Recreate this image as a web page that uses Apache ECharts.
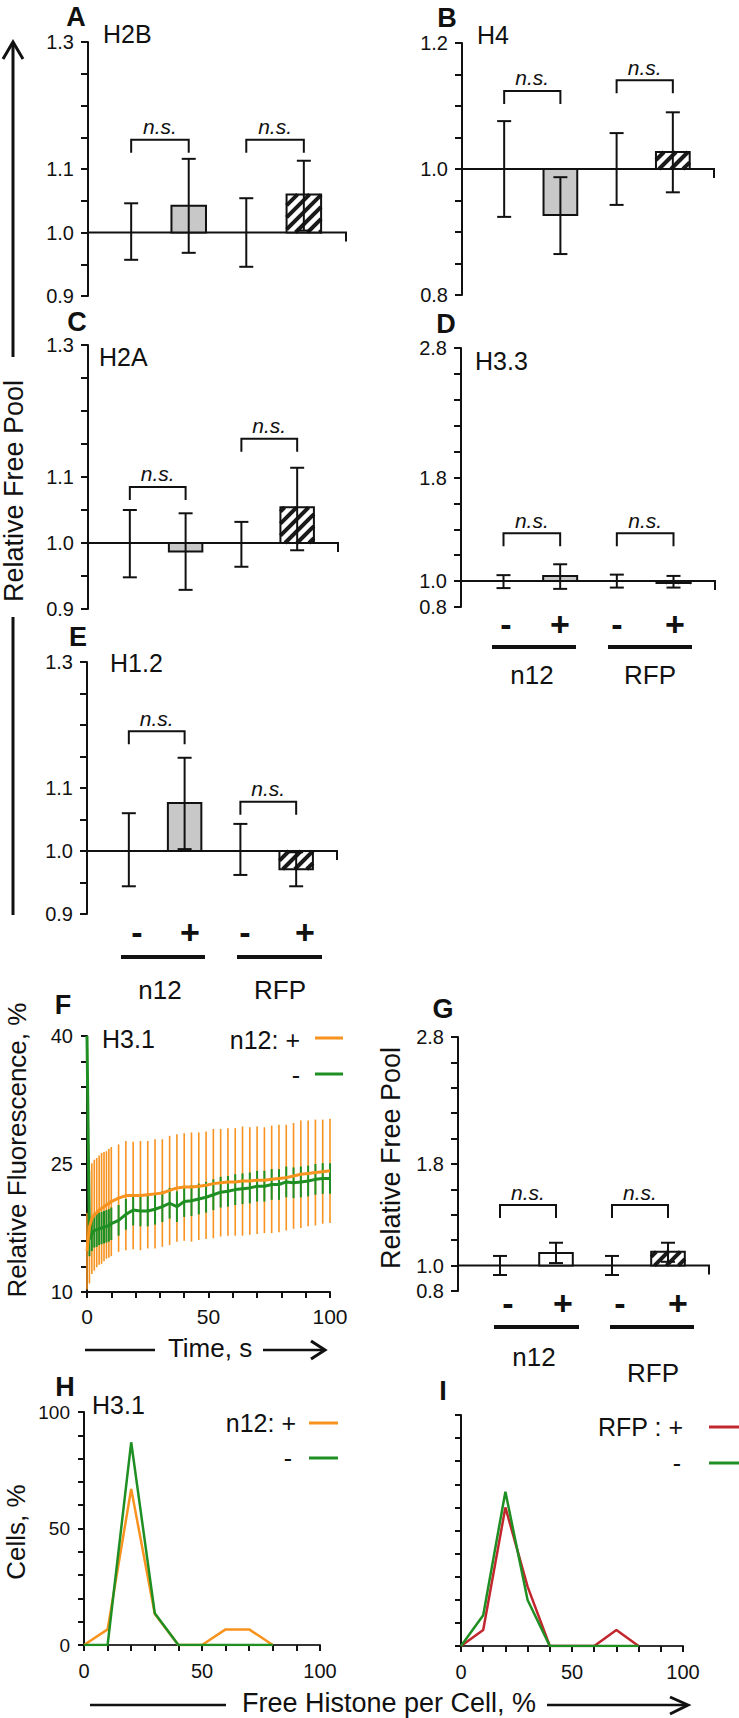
<!DOCTYPE html>
<html>
<head>
<meta charset="utf-8">
<script src="https://cdn.jsdelivr.net/npm/echarts@6/dist/echarts.min.js"></script>
<style>
  html, body { margin: 0; padding: 0; background: #fff; }
  #chart { width: 739px; height: 1718px; }
</style>
</head>
<body>
<div id="chart"></div>
<script>
// ---------- data ----------
const groupSigns = ['-', '+', '-', '+'];
const groupNames = ['n12', 'RFP'];
const barKinds = ['none', 'gray', 'none', 'hatch'];
const barKindsG = ['none', 'white', 'none', 'hatch'];

// relative free pool (control = 1.0); low/high are error bar ends
const h2bMean = [1.0, 1.042, 1.0, 1.060];
const h2bLow = [0.957, 0.968, 0.946, 1.003];
const h2bHigh = [1.046, 1.116, 1.054, 1.113];
const h2bNs = [1.146, 1.146];

const h4Mean = [1.0, 0.927, 1.0, 1.027];
const h4Low = [0.924, 0.865, 0.943, 0.963];
const h4High = [1.076, 0.987, 1.057, 1.090];
const h4Ns = [1.124, 1.141];

const h2aMean = [1.0, 0.987, 1.0, 1.054];
const h2aLow = [0.948, 0.929, 0.964, 0.989];
const h2aHigh = [1.050, 1.045, 1.032, 1.114];
const h2aNs = [1.085, 1.158];

const h33Mean = [1.0, 1.04, 1.0, 0.985];
const h33Low = [0.946, 0.94, 0.95, 0.95];
const h33High = [1.046, 1.13, 1.05, 1.04];
const h33Ns = [1.37, 1.37];

const h12Mean = [1.0, 1.076, 1.0, 0.971];
const h12Low = [0.944, 1.003, 0.962, 0.944];
const h12High = [1.060, 1.148, 1.043, 0.998];
const h12Ns = [1.19, 1.078];

const h31Mean = [1.0, 1.10, 1.0, 1.11];
const h31Low = [0.926, 1.02, 0.926, 1.03];
const h31High = [1.076, 1.18, 1.076, 1.18];
const h31Ns = [1.477, 1.477];

// F: recovery curves
const fluorTime = [0, 1, 2, 3, 4, 5, 6, 7, 8, 9, 10, 13, 16, 19, 22, 25, 28, 31, 34, 37, 40,
  43, 46, 49, 52, 55, 58, 61, 64, 67, 70, 73, 76, 79, 82, 85, 88, 91, 94, 97, 100];
const plusMean = [14.8, 17.6, 18.6, 19.0, 19.3, 19.6, 19.8, 20.0, 20.2, 20.4, 20.6, 21.0, 21.3,
  21.3, 21.3, 21.4, 21.5, 21.6, 21.9, 22.2, 22.3, 22.3, 22.4, 22.5, 22.7, 22.8, 22.9, 22.9,
  23.0, 23.0, 23.1, 23.1, 23.2, 23.3, 23.4, 23.6, 23.8, 23.9, 24.0, 24.1, 24.2];
const plusErr = [4.5, 6.6, 6.5, 6.5, 6.4, 6.4, 6.5, 6.4, 6.3, 6.4, 6.4, 6.3, 6.4, 6.3, 6.4, 6.3,
  6.4, 6.3, 6.4, 6.3, 6.3, 6.4, 6.3, 6.3, 6.4, 6.3, 6.3, 6.3, 6.4, 6.3, 6.3, 6.2, 6.3, 6.3,
  6.2, 6.2, 6.3, 6.2, 6.2, 6.1, 6.1];
const minusMean = [40, 16.2, 16.8, 17.2, 17.3, 17.4, 17.5, 17.6, 17.7, 17.8, 18.0, 18.4, 19.1,
  19.6, 19.5, 19.5, 19.7, 20.0, 20.4, 20.0, 20.6, 20.7, 20.9, 21.1, 21.4, 21.7, 21.8, 22.0,
  22.1, 22.2, 22.4, 22.4, 22.6, 22.6, 22.9, 22.8, 22.9, 23.0, 23.2, 23.3, 23.3];
const minusErr = [0, 2.0, 2.0, 2.0, 2.0, 1.9, 1.9, 1.9, 1.9, 1.9, 1.9, 1.8, 1.8, 1.8, 1.8, 1.8,
  1.8, 1.8, 1.8, 1.8, 1.8, 1.8, 1.8, 1.8, 1.8, 1.8, 1.8, 1.8, 1.8, 1.8, 1.8, 1.8, 1.8, 1.8,
  1.8, 1.8, 1.8, 1.8, 1.8, 1.8, 1.8];

// H, I: histograms of free histone per cell
const histBins = [0, 10, 20, 30, 40, 50, 60, 70, 80];
const hN12Plus = [0, 6.7, 67, 13.3, 0, 0, 6.7, 6.7, 0];
const hN12Minus = [0, 0, 87, 13.6, 0, 0, 0, 0, 0];
const iRfpPlus = [0, 6.9, 60, 25.7, 0, 0, 0, 6.9, 0];
const iRfpMinus = [0, 13.3, 66.8, 19.9, 0, 0, 0, 0, 0];

// ---------- style ----------
const FONT = "'Liberation Sans', Arial, sans-serif";
const INK = '#111';
const GRAY = '#c8c8c8';
const ORANGE = '#f7931e';
const GREEN = '#1f8f23';
const RED = '#c1272d';
const X_MIN = -0.75, X_MAX = 3.75;

const barPanels = [
  { key: 'A', grid: { left: 88, top: 42, width: 259, height: 254 }, y: [0.9, 1.3, 0.05], labels: [0.9, 1.0, 1.1, 1.3],
    mean: h2bMean, low: h2bLow, high: h2bHigh, ns: h2bNs, kinds: barKinds },
  { key: 'B', grid: { left: 462, top: 43, width: 253, height: 252 }, y: [0.8, 1.2, 0.05], labels: [0.8, 1.0, 1.2],
    mean: h4Mean, low: h4Low, high: h4High, ns: h4Ns, kinds: barKinds },
  { key: 'C', grid: { left: 88, top: 345, width: 251, height: 264 }, y: [0.9, 1.3, 0.05], labels: [0.9, 1.0, 1.1, 1.3],
    mean: h2aMean, low: h2aLow, high: h2aHigh, ns: h2aNs, kinds: barKinds },
  { key: 'D', grid: { left: 461, top: 348, width: 255, height: 259 }, y: [0.8, 2.8, 0.2], labels: [0.8, 1.0, 1.8, 2.8],
    mean: h33Mean, low: h33Low, high: h33High, ns: h33Ns, kinds: barKinds },
  { key: 'E', grid: { left: 87, top: 662, width: 251, height: 252 }, y: [0.9, 1.3, 0.05], labels: [0.9, 1.0, 1.1, 1.3],
    mean: h12Mean, low: h12Low, high: h12High, ns: h12Ns, kinds: barKinds },
  { key: 'G', grid: { left: 458, top: 1037, width: 252, height: 254 }, y: [0.8, 2.8, 0.2], labels: [0.8, 1.0, 1.8, 2.8],
    mean: h31Mean, low: h31Low, high: h31High, ns: h31Ns, kinds: barKindsG }
];

const grids = [], xAxes = [], yAxes = [], series = [];

function axisStyle() {
  return { show: true, onZero: false, lineStyle: { color: INK, width: 2 } };
}
function pickLabels(shown, step, fmt) {
  return v => shown.some(s => Math.abs(s - v) < step / 10) ? fmt(v) : '';
}

function hatch(x0, y0, x1, y1) {
  const step = 12, out = [];
  for (let c = Math.ceil((x0 + y0) / step) * step; c < x1 + y1; c += step) {
    const xa = Math.max(x0, c - y1), xb = Math.min(x1, c - y0);
    if (xb > xa) {
      out.push({ type: 'line', shape: { x1: xa, y1: c - xa, x2: xb, y2: c - xb },
        style: { stroke: '#1a1a1a', lineWidth: 4 } });
    }
  }
  return out;
}

barPanels.forEach((p, idx) => {
  grids.push(Object.assign({ containLabel: false, outerBoundsMode: 'none' }, p.grid));
  xAxes.push({ gridIndex: idx, type: 'value', min: X_MIN, max: X_MAX, show: false });
  yAxes.push({
    gridIndex: idx, type: 'value', min: p.y[0], max: p.y[1], interval: p.y[2],
    axisLine: axisStyle(),
    axisTick: { show: true, length: 7, lineStyle: { color: INK, width: 2 } },
    splitLine: { show: false },
    axisLabel: { fontSize: 20, fontFamily: FONT, color: INK, margin: 14,
      formatter: pickLabels(p.labels, p.y[2], v => v.toFixed(1)) }
  });
  const pts = p.mean.map((m, k) => [k, m, p.low[k], p.high[k]]);
  const common = { type: 'custom', xAxisIndex: idx, yAxisIndex: idx, silent: true };

  // horizontal axis at 1.0 with end tick
  series.push(Object.assign({}, common, {
    name: p.key + ' baseline', data: [[X_MIN, 1.0, X_MAX]], encode: { x: 0, y: 1 },
    renderItem: (params, api) => {
      const a = api.coord([api.value(0), api.value(1)]);
      const b = api.coord([api.value(2), api.value(1)]);
      return { type: 'group', children: [
        { type: 'line', shape: { x1: a[0], y1: a[1], x2: b[0], y2: b[1] }, style: { stroke: INK, lineWidth: 2 } },
        { type: 'line', shape: { x1: b[0] - 1, y1: b[1], x2: b[0] - 1, y2: b[1] + 9 }, style: { stroke: INK, lineWidth: 2 } }
      ] };
    }
  }));

  // bars drawn from 1.0
  series.push(Object.assign({}, common, {
    name: p.key + ' bars', data: pts, encode: { x: 0, y: 1 },
    renderItem: (params, api) => {
      const kind = p.kinds[params.dataIndex];
      if (kind === 'none') return { type: 'group', children: [] };
      const half = api.size([0.6, 0])[0] / 2;
      const base = api.coord([api.value(0), 1.0]);
      const top = api.coord([api.value(0), api.value(1)]);
      const x0 = base[0] - half, x1 = base[0] + half;
      const y0 = Math.min(base[1], top[1]), y1 = Math.max(base[1], top[1]);
      const shape = { x: x0, y: y0, width: x1 - x0, height: y1 - y0 };
      const children = [{ type: 'rect', shape, style: { fill: kind === 'gray' ? GRAY : '#fff' } }];
      if (kind === 'hatch') children.push.apply(children, hatch(x0, y0, x1, y1));
      children.push({ type: 'rect', shape, style: { fill: 'none', stroke: INK, lineWidth: 2 } });
      return { type: 'group', children };
    }
  }));

  // error bars
  series.push(Object.assign({}, common, {
    name: p.key + ' error', data: pts, encode: { x: 0, y: [2, 3] },
    renderItem: (params, api) => {
      const lo = api.coord([api.value(0), api.value(2)]);
      const hi = api.coord([api.value(0), api.value(3)]);
      const s = { stroke: INK, lineWidth: 2 };
      return { type: 'group', children: [
        { type: 'line', shape: { x1: lo[0], y1: lo[1], x2: hi[0], y2: hi[1] }, style: s },
        { type: 'line', shape: { x1: hi[0] - 7, y1: hi[1], x2: hi[0] + 7, y2: hi[1] }, style: s },
        { type: 'line', shape: { x1: lo[0] - 7, y1: lo[1], x2: lo[0] + 7, y2: lo[1] }, style: s }
      ] };
    }
  }));

  // n.s. brackets between - and + of each group
  series.push(Object.assign({}, common, {
    name: p.key + ' ns', data: p.ns.map((lv, j) => [2 * j, 2 * j + 1, lv]), encode: { x: [0, 1], y: 2 },
    renderItem: (params, api) => {
      const a = api.coord([api.value(0), api.value(2)]);
      const b = api.coord([api.value(1), api.value(2)]);
      return { type: 'group', children: [
        { type: 'polyline', shape: { points: [[a[0], a[1] + 13], [a[0], a[1]], [b[0], b[1]], [b[0], b[1] + 13]] },
          style: { stroke: INK, lineWidth: 2, fill: 'none' } },
        { type: 'text', style: { text: 'n.s.', x: (a[0] + b[0]) / 2, y: a[1] - 13,
          align: 'center', verticalAlign: 'middle', textAlign: 'center', textVerticalAlign: 'middle',
          fontSize: 21, fontStyle: 'italic', fontFamily: FONT, fill: INK } }
      ] };
    }
  }));
});

// ---------- F: fluorescence recovery ----------
const iF = barPanels.length;
grids.push({ left: 87, top: 1036, width: 243, height: 256, containLabel: false, outerBoundsMode: 'none' });
xAxes.push({ gridIndex: iF, type: 'value', min: 0, max: 100, interval: 10,
  axisLine: axisStyle(), axisTick: { length: 6, lineStyle: { color: INK, width: 2 } }, splitLine: { show: false },
  axisLabel: { fontSize: 21, fontFamily: FONT, color: INK, margin: 14, formatter: pickLabels([0, 50, 100], 10, v => String(v)) } });
yAxes.push({ gridIndex: iF, type: 'value', min: 10, max: 40, interval: 3,
  axisLine: axisStyle(), axisTick: { length: 6, lineStyle: { color: INK, width: 2 } }, splitLine: { show: false },
  axisLabel: { fontSize: 20, fontFamily: FONT, color: INK, margin: 14, formatter: pickLabels([10, 25, 40], 3, v => String(v)) } });

function errSeries(name, mean, err, color, width, gi) {
  return {
    name, type: 'custom', xAxisIndex: gi, yAxisIndex: gi, silent: true,
    data: fluorTime.map((t, k) => [t, mean[k] - err[k], mean[k] + err[k]]),
    encode: { x: 0, y: [1, 2] },
    renderItem: (params, api) => {
      const lo = api.coord([api.value(0), api.value(1)]);
      const hi = api.coord([api.value(0), api.value(2)]);
      return { type: 'line', shape: { x1: lo[0], y1: lo[1], x2: hi[0], y2: hi[1] },
        style: { stroke: color, lineWidth: width } };
    }
  };
}
series.push(errSeries('n12 + sd', plusMean, plusErr, ORANGE, 1.6, iF));
series.push(errSeries('n12 - sd', minusMean, minusErr, GREEN, 2, iF));
series.push({ name: 'n12 -', type: 'line', xAxisIndex: iF, yAxisIndex: iF, showSymbol: false, silent: true,
  data: fluorTime.map((t, k) => [t, minusMean[k]]), lineStyle: { color: GREEN, width: 3 }, itemStyle: { color: GREEN } });
series.push({ name: 'n12 +', type: 'line', xAxisIndex: iF, yAxisIndex: iF, showSymbol: false, silent: true,
  data: fluorTime.map((t, k) => [t, plusMean[k]]), lineStyle: { color: ORANGE, width: 3 }, itemStyle: { color: ORANGE } });

// ---------- H, I: histograms ----------
function histPanel(gi, grid, showY) {
  grids.push(Object.assign({ containLabel: false, outerBoundsMode: 'none' }, grid));
  xAxes.push({ gridIndex: gi, type: 'value', min: 0, max: 100, interval: 10,
    axisLine: { show: true, onZero: false, lineStyle: { color: '#333', width: 2 } },
    axisTick: { length: 6, lineStyle: { color: INK, width: 2 } },
    splitLine: { show: false },
    axisLabel: { fontSize: 20, fontFamily: FONT, color: INK, margin: 16, formatter: pickLabels([0, 50, 100], 10, v => String(v)) } });
  yAxes.push({ gridIndex: gi, type: 'value', min: 0, max: 100, interval: 10,
    axisLine: axisStyle(), axisTick: { length: 6, lineStyle: { color: INK, width: 2 } }, splitLine: { show: false },
    axisLabel: { show: showY, fontSize: 19, fontFamily: FONT, color: INK, margin: 14,
      formatter: pickLabels([0, 50, 100], 10, v => String(v)) } });
}
function histLine(name, gi, vals, color) {
  return { name, type: 'line', xAxisIndex: gi, yAxisIndex: gi, showSymbol: false, silent: true,
    data: histBins.map((b, k) => [b, vals[k]]), lineStyle: { color, width: 2.5 }, itemStyle: { color } };
}
const iH = iF + 1, iI = iF + 2;
histPanel(iH, { left: 84, top: 1412, width: 236, height: 233 }, true);
histPanel(iI, { left: 461, top: 1415, width: 222, height: 231 }, false);
series.push(histLine('H n12 +', iH, hN12Plus, ORANGE));
series.push(histLine('H n12 -', iH, hN12Minus, GREEN));
series.push(histLine('I RFP +', iI, iRfpPlus, RED));
series.push(histLine('I RFP -', iI, iRfpMinus, GREEN));

// ---------- annotations ----------
const graphics = [];
function txt(text, x, y, size, opt) {
  opt = opt || {};
  const align = opt.align || 'center';
  graphics.push({ type: 'text', x, y, rotation: opt.rot || 0, silent: true,
    style: { text, x: 0, y: 0, fill: INK, fontSize: size, fontFamily: FONT,
      fontWeight: opt.bold ? 'bold' : 'normal', fontStyle: opt.italic ? 'italic' : 'normal',
      align, verticalAlign: 'middle', textAlign: align, textVerticalAlign: 'middle' } });
}
function seg(x1, y1, x2, y2, w, color) {
  graphics.push({ type: 'line', silent: true, shape: { x1, y1, x2, y2 }, style: { stroke: color || INK, lineWidth: w } });
}
function head(points, w) {
  graphics.push({ type: 'polyline', silent: true, shape: { points }, style: { stroke: INK, lineWidth: w, fill: 'none' } });
}

[['A', 76, 17], ['B', 447, 18], ['C', 77, 322], ['D', 446, 324], ['E', 78, 637], ['F', 63, 1005],
 ['G', 443, 1009], ['H', 65, 1387], ['I', 443, 1391]].forEach(l => txt(l[0], l[1], l[2], 27, { bold: true }));

[['H2B', 103, 34], ['H4', 477, 35], ['H2A', 99, 357], ['H3.3', 475, 361], ['H1.2', 110, 663],
 ['H3.1', 102, 1039], ['H3.1', 92, 1405]].forEach(l => txt(l[0], l[1], l[2], 25, { align: 'left' }));

// sign rows, underlines and group names under D, E and G
[{ y: 624, xs: [506, 560, 617, 675], ly: 647, lines: [[492, 576], [608, 692]], gy: [675, 675], gx: [532, 650] },
 { y: 932, xs: [137, 190, 245, 305], ly: 957, lines: [[121, 205], [237, 322]], gy: [990, 990], gx: [160, 280] },
 { y: 1303, xs: [508, 563, 620, 678], ly: 1327, lines: [[494, 579], [610, 694]], gy: [1357, 1373], gx: [534, 653] }
].forEach(r => {
  r.xs.forEach((x, k) => txt(groupSigns[k], x, r.y, 34, { bold: true }));
  r.lines.forEach(l => seg(l[0], r.ly, l[1], r.ly, 4));
  groupNames.forEach((n, k) => txt(n, r.gx[k], r.gy[k], 26));
});

// main y label with arrow
txt('Relative Free Pool', 14, 491, 27, { rot: Math.PI / 2 });
seg(13, 42, 13, 357, 3);
seg(13, 617, 13, 915, 3);
head([[3, 59], [13, 42], [23, 59]], 3);

// F labels
txt('Relative Fluorescence, %', 17, 1150, 26, { rot: Math.PI / 2 });
txt('Time, s', 210, 1348, 26);
seg(85, 1350, 155, 1350, 2.5);
seg(263, 1350, 323, 1350, 2.5);
head([[311, 1341], [325, 1350], [311, 1359]], 3);
txt('n12: +', 300, 1040, 25, { align: 'right' });
seg(315, 1038, 343, 1038, 3, ORANGE);
txt('-', 300, 1075, 25, { align: 'right' });
seg(315, 1074, 343, 1074, 3, GREEN);

// G label
txt('Relative Free Pool', 391, 1158, 27, { rot: Math.PI / 2 });

// H, I labels
txt('Cells, %', 16, 1532, 26, { rot: Math.PI / 2 });
txt('Free Histone per Cell, %', 389, 1703, 27);
seg(90, 1705, 226, 1705, 2.5);
seg(547, 1705, 686, 1705, 2.5);
head([[670, 1697], [688, 1705], [670, 1714]], 3);
txt('n12: +', 296, 1423, 25, { align: 'right' });
seg(309, 1423, 338, 1423, 3, ORANGE);
txt('-', 292, 1458, 25, { align: 'right' });
seg(309, 1458, 338, 1458, 3, GREEN);
txt('RFP : +', 683, 1427, 25, { align: 'right' });
seg(709, 1427, 739, 1427, 3, RED);
txt('-', 681, 1463, 25, { align: 'right' });
seg(709, 1463, 739, 1463, 3, GREEN);

const chart = echarts.init(document.getElementById('chart'), null, { renderer: 'svg' });
chart.setOption({
  backgroundColor: '#fff',
  animation: false,
  grid: grids,
  xAxis: xAxes,
  yAxis: yAxes,
  series: series,
  graphic: graphics
});
window.addEventListener('resize', () => chart.resize());
</script>
</body>
</html>
